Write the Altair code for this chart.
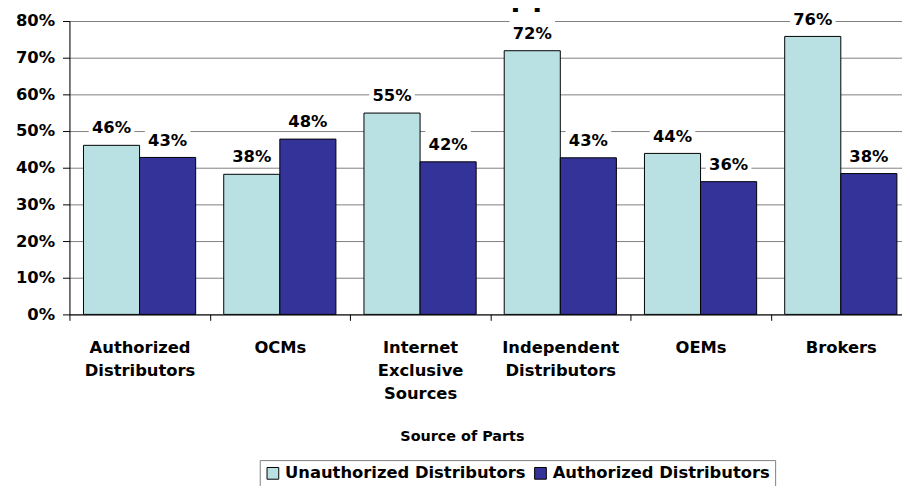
import altair as alt
import pandas as pd

categories = ["Authorized|Distributors", "OCMs", "Internet|Exclusive|Sources",
              "Independent|Distributors", "OEMs", "Brokers"]
series = ["Unauthorized Distributors", "Authorized Distributors"]
unauthorized = [46.1, 38.2, 54.9, 71.9, 43.9, 75.8]
authorized = [42.8, 47.8, 41.6, 42.7, 36.2, 38.4]
unauth_labels = ["46%", "38%", "55%", "72%", "44%", "76%"]
auth_labels = ["43%", "48%", "42%", "43%", "36%", "38%"]
y_ticks = [0, 10, 20, 30, 40, 50, 60, 70, 80]
colors = ["#B9E0E3", "#333399"]
title_text = "Suppliers"

rows = []
for i, c in enumerate(categories):
    rows.append({"cat": c, "series": series[0], "value": unauthorized[i], "label": unauth_labels[i]})
    rows.append({"cat": c, "series": series[1], "value": authorized[i], "label": auth_labels[i]})
df = pd.DataFrame(rows)

FONT = "DejaVu Sans"

x_enc = alt.X(
    "cat:N", sort=categories,
    scale=alt.Scale(paddingInner=0, paddingOuter=0, range=[0, 849]),
    axis=alt.Axis(
        labelAngle=0, tickBand="extent", ticks=True, tickSize=6, tickColor="black",
        domainColor="black", grid=False,
        labelExpr="split(datum.label, '|')",
        labelFont=FONT, labelFontSize=16.5, labelFontWeight="bold", labelColor="black",
        labelLineHeight=23.5, labelPadding=19,
        title="Source of Parts", titleFont=FONT, titleFontSize=14.5, titleFontWeight="bold",
        titleColor="black", titleX=396, titleY=123, titleBaseline="middle", titleAlign="center",
    ),
)
xoff_enc = alt.XOffset("series:N", sort=series,
                       scale=alt.Scale(paddingInner=0, paddingOuter=0.25))

y_scale = alt.Scale(domain=[0, 80], nice=False, zero=True)
y_axis = alt.Axis(
    values=y_ticks, tickCount=9, labelExpr="datum.value + '%'", grid=True, gridColor="#808080",
    gridWidth=1, tickSize=7, tickColor="black", domainColor="black",
    labelFont=FONT, labelFontSize=16.5, labelFontWeight="bold", labelColor="black",
    labelPadding=8, labelOverlap=False, title=None)

bars = alt.Chart(df).mark_bar(stroke="black", strokeWidth=1).encode(
    x=x_enc, xOffset=xoff_enc,
    y=alt.Y("value:Q", scale=y_scale, axis=y_axis),
    color=alt.Color("series:N", sort=series,
                    scale=alt.Scale(domain=series, range=colors),
                    legend=alt.Legend(
                        title=None, orient="none", legendX=192, legendY=443,
                        direction="horizontal", strokeColor="#808080", fillColor="white",
                        padding=5, symbolType="square", symbolSize=140,
                        symbolStrokeColor="black", symbolStrokeWidth=1, symbolOpacity=1,
                        labelFont=FONT, labelFontSize=16.5, labelFontWeight="bold",
                        labelColor="black", labelLimit=500, columnPadding=6, labelOffset=4)),
)

boxes = alt.Chart(df).transform_calculate(
    lo="datum.value + 2.4", hi="datum.value + 8.4"
).mark_bar(color="white", width=46).encode(
    x=x_enc, xOffset=xoff_enc,
    y=alt.Y("lo:Q", scale=y_scale, axis=y_axis), y2="hi:Q",
)

texts = alt.Chart(df).mark_text(
    dy=-12, baseline="alphabetic", font=FONT, fontSize=16.5, fontWeight="bold", color="black"
).encode(
    x=x_enc, xOffset=xoff_enc,
    y=alt.Y("value:Q", scale=y_scale, axis=y_axis), text="label:N",
)

title = alt.Chart(pd.DataFrame({"t": [title_text]})).mark_text(
    align="left", baseline="alphabetic", font="Liberation Sans", fontSize=36,
    fontWeight="bold", color="black"
).encode(text="t:N", x=alt.value(399), y=alt.value(-16))

chart = alt.layer(bars, boxes, texts, title).properties(
    width=840, height=296,
    autosize=alt.AutoSizeParams(type="none"),
    padding={"left": 62, "top": 11, "right": 0, "bottom": 171},
).configure_view(stroke=None).configure(background="white")

chart.save("out.html", embed_options={"renderer": "svg", "actions": False})
